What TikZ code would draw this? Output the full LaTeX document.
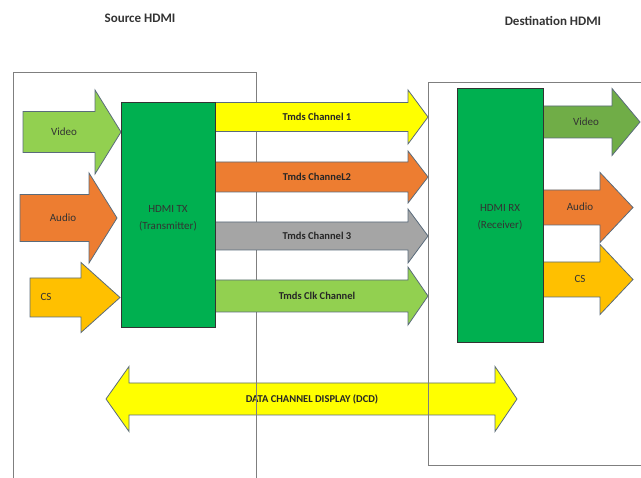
\documentclass[tikz,border=0pt]{standalone}
\usepackage{fontspec}
\setmainfont{Carlito}

\definecolor{boxgreen}{HTML}{00B050}
\definecolor{ltgreen}{HTML}{92D050}
\definecolor{dkgreen}{HTML}{70AD47}
\definecolor{arrorange}{HTML}{ED7D31}
\definecolor{arrgold}{HTML}{FFC000}
\definecolor{arryellow}{HTML}{FFFF00}
\definecolor{arrgray}{HTML}{A5A5A5}
\definecolor{arrline}{HTML}{5A6B7B}
\definecolor{framegray}{HTML}{7F7F7F}

% block arrow: #1 style, #2 start x, #3 head x, #4 tip x, #5 mid y, #6 shaft half, #7 head half
\newcommand{\blockarrow}[7]{%
  \draw[#1] (#2,#5-#6) -- (#3,#5-#6) -- (#3,#5-#7) -- (#4,#5)
    -- (#3,#5+#7) -- (#3,#5+#6) -- (#2,#5+#6) -- cycle;}

\begin{document}
\begin{tikzpicture}[x=1pt, y=-1pt,
    blockarr/.style={draw=arrline, line width=0.8pt, line join=miter},
    frame/.style={draw=framegray, line width=1pt},
    unit/.style={draw=black!80, fill=boxgreen, line width=1pt},
    lbl/.style={font=\fontsize{11}{13}\selectfont, text=black!80},
    chlbl/.style={font=\bfseries\fontsize{10.5}{13}\selectfont, text=black!85},
    title/.style={font=\bfseries\fontsize{13}{15}\selectfont, text=black!80}]
    \useasboundingbox (0,0) rectangle (641,478);

    % Titles
    \node[title] (srctitle) at (140,18) {Source HDMI};
    \node[title] (dsttitle) at (553,21) {Destination HDMI};

    % Data channel arrow (both ways)
    \draw[blockarr, fill=arryellow] (106,399) -- (129,366.5) -- (129,383) -- (495,383)
        -- (495,366.5) -- (517,399) -- (495,431.5) -- (495,415) -- (129,415)
        -- (129,431.5) -- cycle;
    \node[chlbl] (dcd) at (312,399) {DATA CHANNEL DISPLAY (DCD)};

    % Source and destination frames
    \draw[frame] (13,478) -- (13,73) -- (256,73) -- (256,478);
    \draw[frame] (641,83) -- (428,83) -- (428,466) -- (641,466);

    % Inputs to the transmitter
    \blockarrow{blockarr, fill=ltgreen}{23}{95}{121}{132}{20.5}{42}
    \blockarrow{blockarr, fill=arrorange}{20}{89}{117}{218}{23.5}{45}
    \blockarrow{blockarr, fill=arrgold}{30}{81}{120}{297.5}{19.5}{35}
    \node[lbl] (vidin) at (64,132) {Video};
    \node[lbl] (audin) at (63,218) {Audio};
    \node[lbl] (csin) at (46,297) {CS};

    % Tmds channels
    \blockarrow{blockarr, fill=arryellow}{215}{408}{428}{117}{14.5}{27}
    \blockarrow{blockarr, fill=arrorange}{215}{408}{428}{177}{15}{26}
    \blockarrow{blockarr, fill=arrgray}{215}{408}{428}{236}{14}{27}
    \blockarrow{blockarr, fill=ltgreen}{215}{408}{428}{296}{16}{29}
    \node[chlbl] (ch1) at (317,117) {Tmds Channel 1};
    \node[chlbl] (ch2) at (317,177) {Tmds ChanneL2};
    \node[chlbl] (ch3) at (317,236) {Tmds Channel 3};
    \node[chlbl] (clk) at (317,296) {Tmds Clk Channel};

    % Outputs of the receiver
    \blockarrow{blockarr, fill=dkgreen}{543}{612}{640}{122}{16}{33.5}
    \blockarrow{blockarr, fill=arrorange}{543}{600}{633}{207.5}{17.5}{35}
    \blockarrow{blockarr, fill=arrgold}{543}{600}{633}{279.5}{17.5}{35}
    \node[lbl] (vidout) at (586,122) {Video};
    \node[lbl] (audout) at (580,207) {Audio};
    \node[lbl] (csout) at (580,279) {CS};

    % Transmitter and receiver
    \draw[unit] (121,103) rectangle (215,328);
    \draw[unit] (457,89) rectangle (543,343);
    \node[lbl, align=center, font=\fontsize{11}{17}\selectfont] (tx) at (168,218)
        {HDMI TX\\(Transmitter)};
    \node[lbl, align=center, font=\fontsize{11}{17}\selectfont] (rx) at (500,217)
        {HDMI RX\\(Receiver)};
\end{tikzpicture}
\end{document}
